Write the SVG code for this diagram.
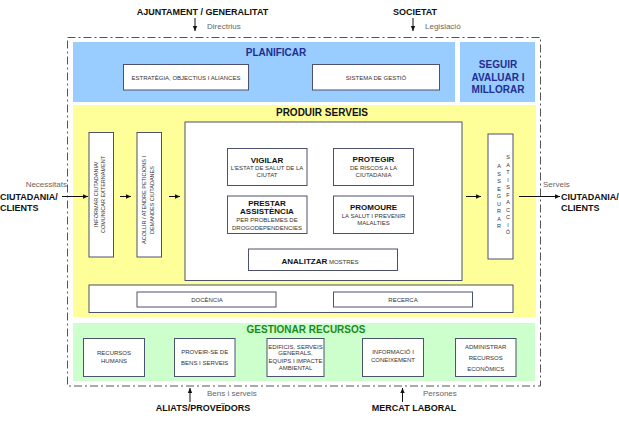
<svg xmlns="http://www.w3.org/2000/svg" width="619" height="422" viewBox="0 0 619 422">
<style>
text{font-family:"Liberation Sans",Arial,sans-serif;}
.lbl{font-size:9px;font-weight:bold;fill:#111;}
.flow{font-size:8px;fill:#666;}
.title{font-size:10px;font-weight:bold;}
.box{fill:#fff;stroke:#4d5170;stroke-width:1;}
.sm{font-size:6px;fill:#333;text-anchor:middle;}
.rot{font-size:5.5px;fill:#333;text-anchor:middle;}
.bt{font-size:8px;font-weight:bold;fill:#111;text-anchor:middle;}
.ln{stroke:#111;stroke-width:1;fill:none;}
.vl{font-size:5.5px;fill:#333;text-anchor:middle;}
</style>
<defs>
<marker id="ah" markerWidth="6" markerHeight="6" refX="5" refY="3" orient="auto" markerUnits="userSpaceOnUse">
<path d="M0,0.8 L5,3 L0,5.2 Z" fill="#111"/>
</marker>
</defs>

<!-- outer boundary -->
<rect x="67.5" y="37.5" width="473" height="348.5" fill="none" stroke="#555" stroke-width="1" stroke-dasharray="8 3 2 3"/>

<!-- areas -->
<g id="planificar">
<rect x="73" y="42" width="382" height="60" fill="#99ccff"/>
<text class="title" x="276" y="56" text-anchor="middle" fill="#1f2f8f">PLANIFICAR</text>
</g>
<g id="seguir">
<rect x="460" y="42" width="75" height="60" fill="#99ccff"/>
<text class="title" x="498" y="68" text-anchor="middle" fill="#1f2f8f">SEGUIR</text>
<text class="title" x="498" y="80.5" text-anchor="middle" fill="#1f2f8f">AVALUAR I</text>
<text class="title" x="498" y="92.5" text-anchor="middle" fill="#1f2f8f">MILLORAR</text>
</g>
<g id="produir">
<rect x="73" y="105" width="463" height="212" fill="#ffff99"/>
<text class="title" x="322" y="116" text-anchor="middle" fill="#111">PRODUIR SERVEIS</text>
</g>
<g id="gestionar">
<rect x="73" y="323" width="462" height="58" fill="#ccffcc"/>
<text class="title" x="306" y="333" text-anchor="middle" fill="#1a8a1a">GESTIONAR RECURSOS</text>
</g>

<!-- planificar boxes -->
<g id="estrategia">
<rect class="box" x="123.5" y="64.5" width="125" height="25.5"/>
<text class="sm" x="186" y="79.5" font-size="6.2">ESTRATÈGIA, OBJECTIUS I ALIANCES</text>
</g>
<g id="sistema">
<rect class="box" x="312.5" y="64.5" width="127" height="25.5"/>
<text class="sm" x="376" y="79.5" font-size="6.2">SISTEMA DE GESTIÓ</text>
</g>

<!-- produir -->
<g id="informar">
<rect class="box" x="89" y="132.5" width="24.5" height="124.5"/>
<text class="rot" transform="translate(98,194.5) rotate(-90)">INFORMAR CIUTADANIA/</text>
<text class="rot" transform="translate(105,194.5) rotate(-90)">COMUNICAR EXTERNAMENT</text>
</g>
<g id="acollir">
<rect class="box" x="137" y="132.5" width="24.5" height="124.5"/>
<text class="rot" transform="translate(146,200) rotate(-90)">ACOLLIR / ATENDRE PETICIONS I</text>
<text class="rot" transform="translate(154,200) rotate(-90)">DEMANDES CIUTADANES</text>
</g>
<g id="serveis">
<rect class="box" x="185" y="122" width="277" height="158.5"/>
</g>
<g id="vigilar">
<rect class="box" x="227.5" y="148.5" width="79.5" height="37"/>
<text class="bt" x="267" y="162.5">VIGILAR</text>
<text class="sm" x="267" y="169.8">L'ESTAT DE SALUT DE LA</text>
<text class="sm" x="267" y="177.3">CIUTAT</text>
</g>
<g id="protegir">
<rect class="box" x="333.5" y="148.5" width="80" height="37"/>
<text class="bt" x="373.5" y="162">PROTEGIR</text>
<text class="sm" x="373.5" y="169.5">DE RISCOS A LA</text>
<text class="sm" x="373.5" y="176.8">CIUTADANIA</text>
</g>
<g id="prestar">
<rect class="box" x="227.5" y="196" width="79.5" height="37.5"/>
<text class="bt" x="267" y="205.5" font-size="8.5">PRESTAR</text>
<text class="bt" x="267" y="214.3" font-size="8.5">ASSISTÈNCIA</text>
<text class="sm" x="267" y="222">PER PROBLEMES DE</text>
<text class="sm" x="267" y="230">DROGODEPENDENCIES</text>
</g>
<g id="promoure">
<rect class="box" x="333.5" y="196" width="80" height="37.5"/>
<text class="bt" x="373.5" y="210">PROMOURE</text>
<text class="sm" x="373.5" y="217.5">LA SALUT I PREVENIR</text>
<text class="sm" x="373.5" y="225">MALALTIES</text>
</g>
<g id="analitzar">
<rect class="box" x="248.5" y="249" width="149" height="21.5"/>
<text x="320" y="264" text-anchor="middle"><tspan font-size="8" font-weight="bold" fill="#111">ANALITZAR</tspan><tspan font-size="6" fill="#333"> MOSTRES</tspan></text>
</g>
<g id="assegurar">
<rect class="box" x="488" y="134" width="25" height="125"/>
<text class="vl" x="499"><tspan x="499" y="168">A</tspan><tspan x="499" y="175.5">S</tspan><tspan x="499" y="183">S</tspan><tspan x="499" y="190.5">E</tspan><tspan x="499" y="198">G</tspan><tspan x="499" y="205.5">U</tspan><tspan x="499" y="213">R</tspan><tspan x="499" y="220.5">A</tspan><tspan x="499" y="228">R</tspan></text>
<text class="vl" x="508"><tspan x="508" y="159">S</tspan><tspan x="508" y="166.5">A</tspan><tspan x="508" y="174">T</tspan><tspan x="508" y="181.5">I</tspan><tspan x="508" y="189">S</tspan><tspan x="508" y="196.5">F</tspan><tspan x="508" y="204">A</tspan><tspan x="508" y="211.5">C</tspan><tspan x="508" y="219">C</tspan><tspan x="508" y="226.5">I</tspan><tspan x="508" y="234">Ó</tspan></text>
</g>
<g id="docencia-recerca">
<rect class="box" x="89" y="285" width="424" height="27.5"/>
</g>
<g id="docencia">
<rect class="box" x="137" y="292" width="139" height="15"/>
<text class="sm" x="207" y="301.8">DOCÈNCIA</text>
</g>
<g id="recerca">
<rect class="box" x="333.5" y="292" width="139" height="15"/>
<text class="sm" x="403" y="301.8">RECERCA</text>
</g>

<!-- gestionar boxes -->
<g id="rrhh">
<rect class="box" x="83.5" y="338.5" width="61" height="38"/>
<text class="sm" x="114" y="355.3">RECURSOS</text>
<text class="sm" x="114" y="363">HUMANS</text>
</g>
<g id="proveir">
<rect class="box" x="174.5" y="338.5" width="60.5" height="38"/>
<text class="sm" x="204.7" y="353.7">PROVEIR-SE DE</text>
<text class="sm" x="204.7" y="365.3">BENS I SERVEIS</text>
</g>
<g id="edificis">
<rect class="box" x="267" y="338.5" width="57" height="38"/>
<text class="sm" x="295.5" y="348.5">EDIFICIS, SERVEIS</text>
<text class="sm" x="295.5" y="355.3">GENERALS,</text>
<text class="sm" x="295.5" y="362.5">EQUIPS I IMPACTE</text>
<text class="sm" x="295.5" y="370">AMBIENTAL</text>
</g>
<g id="informacio">
<rect class="box" x="362.5" y="338.5" width="61" height="38"/>
<text class="sm" x="393" y="354.3">INFORMACIÓ I</text>
<text class="sm" x="393" y="362.3">CONEIXEMENT</text>
</g>
<g id="administrar">
<rect class="box" x="455.5" y="338.5" width="60.5" height="38"/>
<text class="sm" x="485.7" y="348.7">ADMINISTRAR</text>
<text class="sm" x="485.7" y="360">RECURSOS</text>
<text class="sm" x="485.7" y="371.3">ECONÒMICS</text>
</g>

<!-- external actors -->
<g id="ajuntament"><text class="lbl" x="202.5" y="14.5" text-anchor="middle">AJUNTAMENT / GENERALITAT</text></g>
<g id="societat"><text class="lbl" x="415" y="14.5" text-anchor="middle">SOCIETAT</text></g>
<g id="ciutadania-in"><text class="lbl" x="0" y="200">CIUTADANIA/</text><text class="lbl" x="0" y="210.5">CLIENTS</text></g>
<g id="ciutadania-out"><text class="lbl" x="561" y="200">CIUTADANIA/</text><text class="lbl" x="561" y="210.5">CLIENTS</text></g>
<g id="aliats"><text class="lbl" x="203" y="411" text-anchor="middle" font-size="8.6">ALIATS/PROVEÏDORS</text></g>
<g id="mercat"><text class="lbl" x="414" y="411" text-anchor="middle" font-size="8.6">MERCAT LABORAL</text></g>

<!-- connectors -->
<g id="connectors">
<line class="ln" x1="195" y1="18" x2="195" y2="31" marker-end="url(#ah)"/>
<line class="ln" x1="413" y1="18" x2="413" y2="31" marker-end="url(#ah)"/>
<line class="ln" x1="62" y1="196.5" x2="88" y2="196.5" marker-end="url(#ah)"/>
<line class="ln" x1="120" y1="196.5" x2="131" y2="196.5" marker-end="url(#ah)"/>
<line class="ln" x1="169" y1="196.5" x2="180" y2="196.5" marker-end="url(#ah)"/>
<line class="ln" x1="466" y1="196.5" x2="481" y2="196.5" marker-end="url(#ah)"/>
<line class="ln" x1="519" y1="196.5" x2="560" y2="196.5" marker-end="url(#ah)"/>
<line class="ln" x1="190" y1="402" x2="190" y2="388" marker-end="url(#ah)"/>
<line class="ln" x1="402.5" y1="402" x2="402.5" y2="388" marker-end="url(#ah)"/>
<text class="flow" x="207" y="28.5">Directrius</text>
<text class="flow" x="425" y="28.5">Legislació</text>
<text class="flow" x="67" y="187" text-anchor="end">Necessitats</text>
<text class="flow" x="543" y="187">Serveis</text>
<text class="flow" x="207" y="396">Bens i serveis</text>
<text class="flow" x="423" y="396">Persones</text>
</g>
</svg>
